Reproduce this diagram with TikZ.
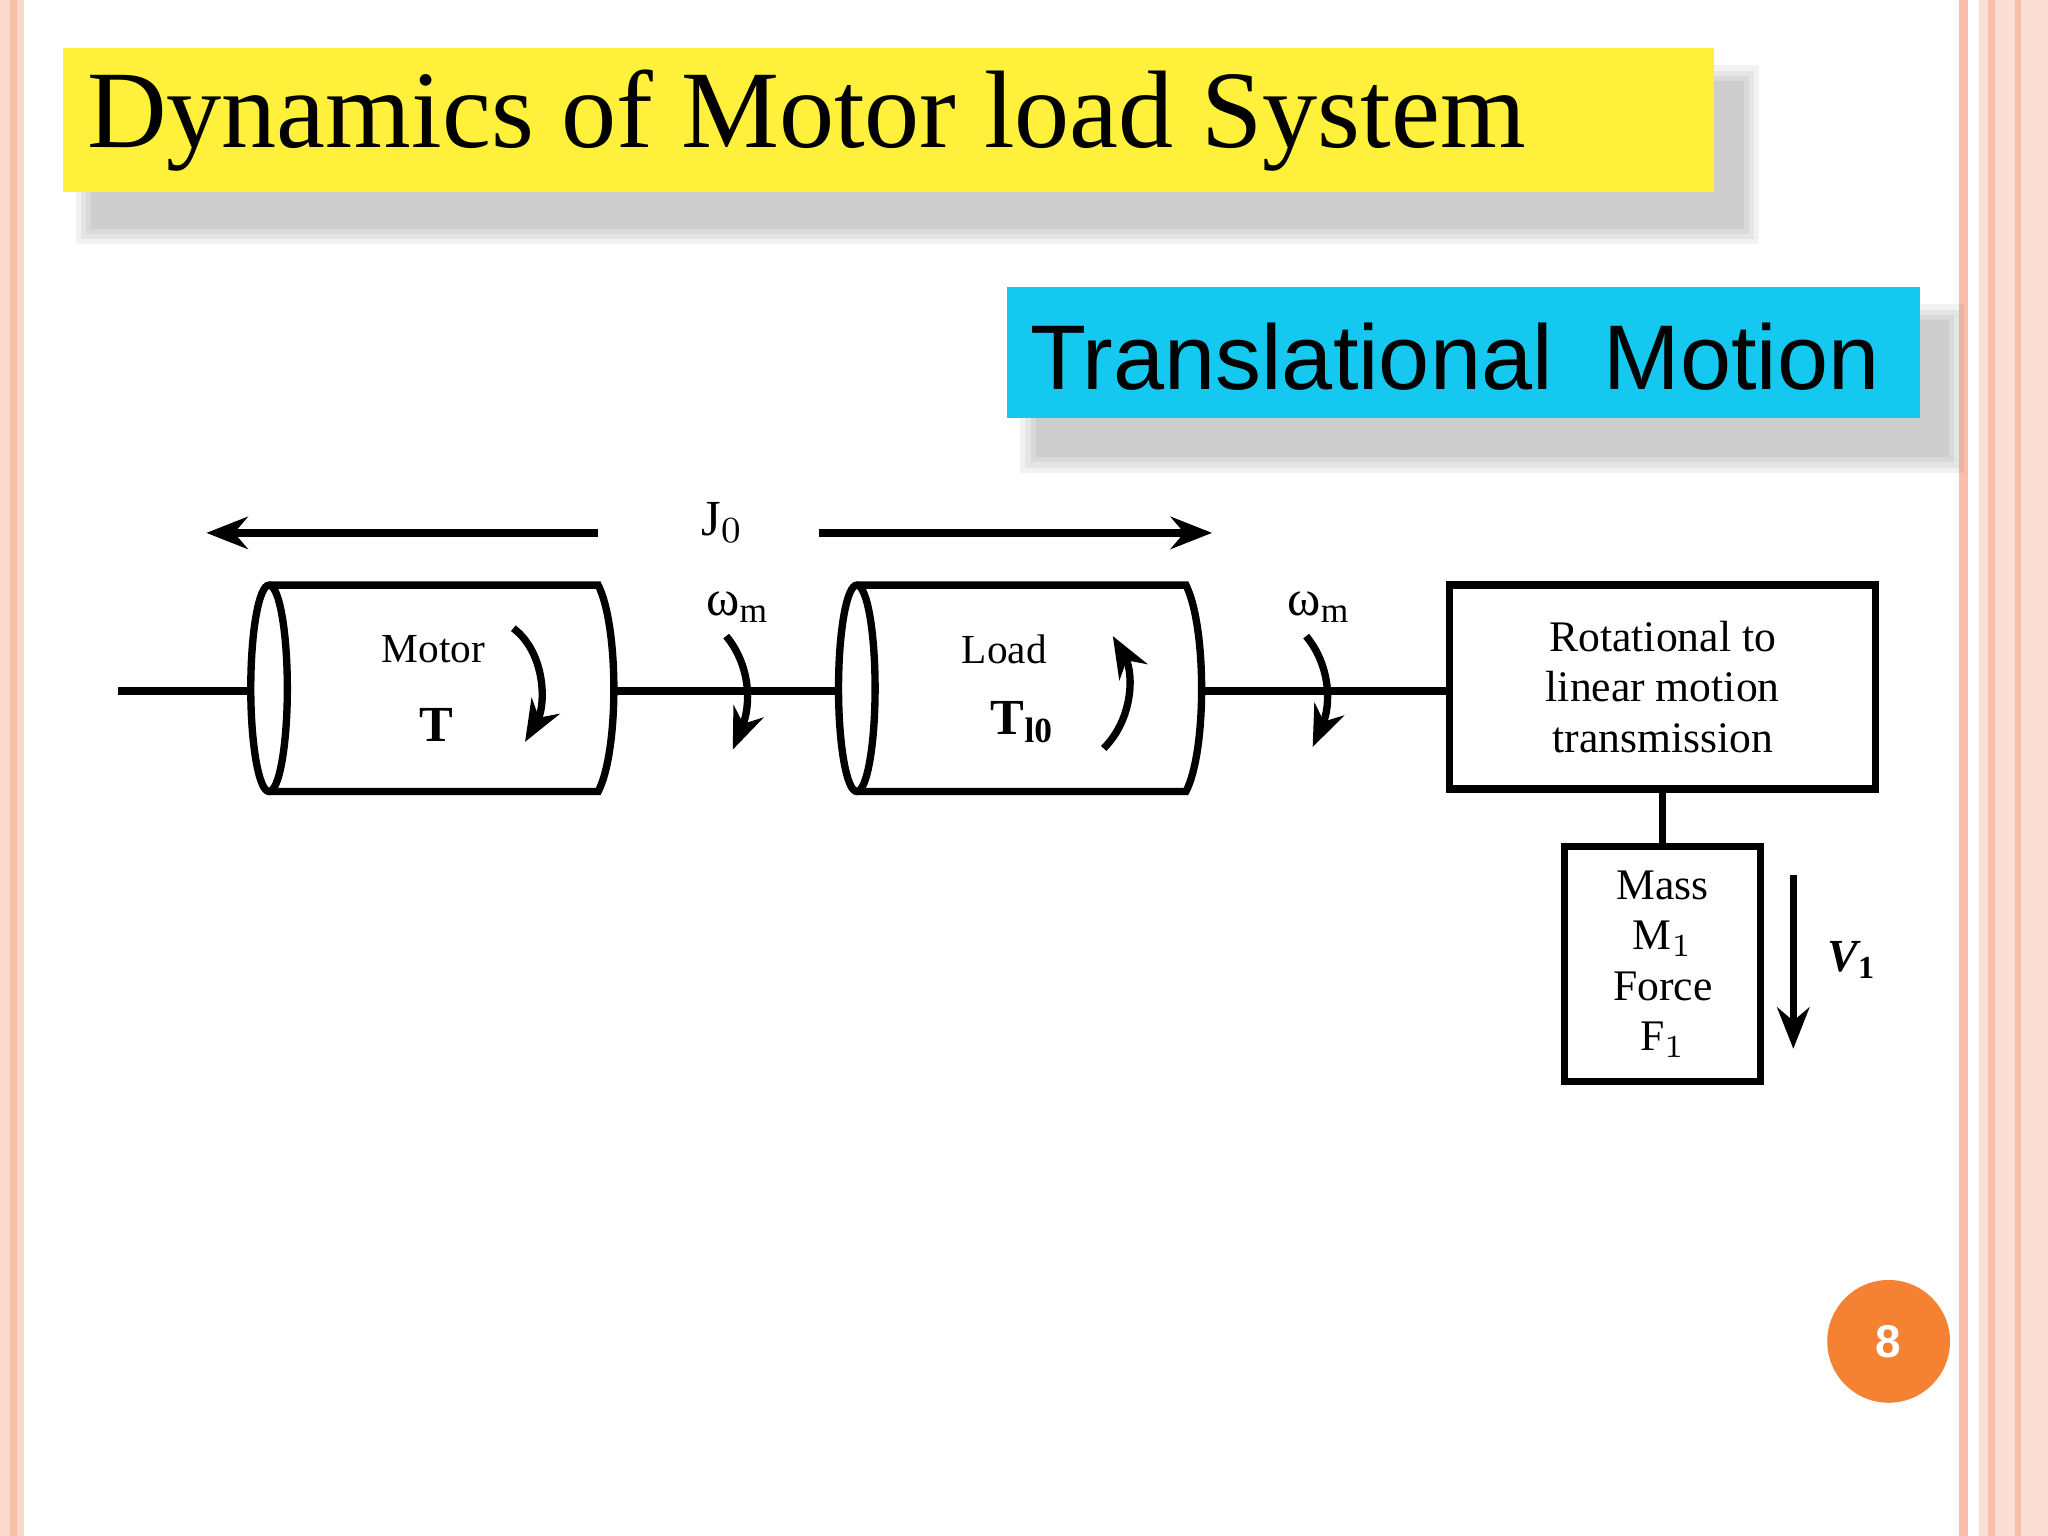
\documentclass[tikz,border=0pt]{standalone}
\usepackage{fontspec}
\setmainfont{Liberation Serif}
\newfontfamily\sansf{Liberation Sans}
\usetikzlibrary{arrows.meta}
\definecolor{pinkb}{RGB}{248,190,170}
\definecolor{ttl}{RGB}{255,240,60}
\definecolor{cyb}{RGB}{20,200,240}
\definecolor{org}{RGB}{245,130,50}
\tikzset{ln/.style={line width=1.6pt},
 arr/.style={ln,-{Stealth[length=9pt,width=7pt]}},
 lbl/.style={font=\fontsize{9}{10}\selectfont,align=center,inner sep=0pt}}
\begin{document}
\begin{tikzpicture}[x=0.01cm,y=-0.01cm]
\useasboundingbox (0,0) rectangle (1568,1176);
\fill[white] (0,0) rectangle (1568,1176);
% borders
\fill[pinkb!60] (0,0) rectangle (18,1176);
\draw[pinkb,line width=1.5pt] (10,0)--(10,1176);
\fill[pinkb!50] (1515,0) rectangle (1568,1176);
\draw[pinkb,line width=2pt] (1503,0)--(1503,1176);
\draw[pinkb,line width=1.5pt] (1525,0)--(1525,1176);
\draw[pinkb,line width=1.5pt] (1545,0)--(1545,1176);
% title
\foreach \d in {12,8,4,0}{\fill[black,opacity=0.05] (70-\d,62-\d) rectangle (1335+\d,175+\d);}
\fill[ttl] (48,37) rectangle (1312,147);
\node[anchor=west,inner sep=0pt,font=\fontsize{24}{26}\selectfont] (title) at (66,92) {Dynamics of Motor load System};
\foreach \d in {12,8,4,0}{\fill[black,opacity=0.05] (793-\d,245-\d) rectangle (1492+\d,350+\d);}
\fill[cyb] (771,220) rectangle (1470,320);
\node[anchor=west,inner sep=0pt,font=\sansf\fontsize{20}{22}\selectfont] (sub) at (788,273) {Translational\ \ Motion};
% arrows
\coordinate (la1) at (458,408); \coordinate (la2) at (158,408);
\coordinate (ra1) at (627,408); \coordinate (ra2) at (928,408);
\draw[arr] (la1)--(la2); \draw[arr] (ra1)--(ra2);
\node[lbl,font=\fontsize{11}{12}\selectfont] (J) at (553,400) {J$_0$};
% shafts
\coordinate (s0) at (90,529); \coordinate (s1) at (192,529);
\coordinate (s2) at (470,529); \coordinate (s3) at (642,529);
\coordinate (s4) at (922,529); \coordinate (s5) at (1110,529);
\draw[ln] (s0)--(s1); \draw[ln] (s2)--(s3); \draw[ln] (s4)--(s5);
% cylinders
\foreach \x in {192,642}{
 \draw[ln] (\x+14,527) ellipse [x radius=14,y radius=79];
 \draw[ln] (\x+14,448)--(\x+266,448) .. controls (\x+282,480) and (\x+282,575) .. (\x+266,606)--(\x+14,606);
}
\node[lbl] (motor) at (332,497) {Motor};
\node[lbl,font=\bfseries\fontsize{11}{12}\selectfont] (T) at (334,555) {T};
\node[lbl] (load) at (769,497) {Load};
\node[lbl,font=\bfseries\fontsize{11}{12}\selectfont] (Tl) at (783,553) {T$_{\mathbf{l0}}$};
\draw[arr] (393,481) .. controls (418,500) and (418,540) .. (402,568);
\draw[arr] (845,573) .. controls (868,550) and (868,515) .. (852,487);
\draw[arr] (556,487) .. controls (575,510) and (575,540) .. (561,574);
\draw[arr] (1000,487) .. controls (1019,510) and (1019,540) .. (1005,572);
\node[lbl,font=\fontsize{11}{12}\selectfont] (w1) at (565,465) {ω$_{\mathrm m}$};
\node[lbl,font=\fontsize{11}{12}\selectfont] (w2) at (1010,465) {ω$_{\mathrm m}$};
% boxes
\node[ln,draw,minimum width=3.26cm,minimum height=1.56cm,align=center,font=\fontsize{9.5}{11}\selectfont] (conv) at (1273,526) {Rotational to\\linear motion\\transmission};
\node[ln,draw,minimum width=1.5cm,minimum height=1.8cm,align=center,font=\fontsize{9.5}{11}\selectfont,inner sep=0pt] (mass) at (1273,738) {Mass\\M$_1$\\Force\\F$_1$};
\draw[ln] (conv.south)--(mass.north);
\coordinate (v0) at (1373,670); \coordinate (v1) at (1373,803);
\draw[arr] (v0)--(v1);
\node[lbl,font=\itshape\bfseries\fontsize{10}{12}\selectfont] (V) at (1418,735) {V$_{\mathbf 1}$};
% page number
\fill[org] (1446,1027) circle (47);
\node[font=\sansf\bfseries\fontsize{10}{12}\selectfont,text=white] (pg) at (1446,1027) {8};
\end{tikzpicture}
\end{document}
